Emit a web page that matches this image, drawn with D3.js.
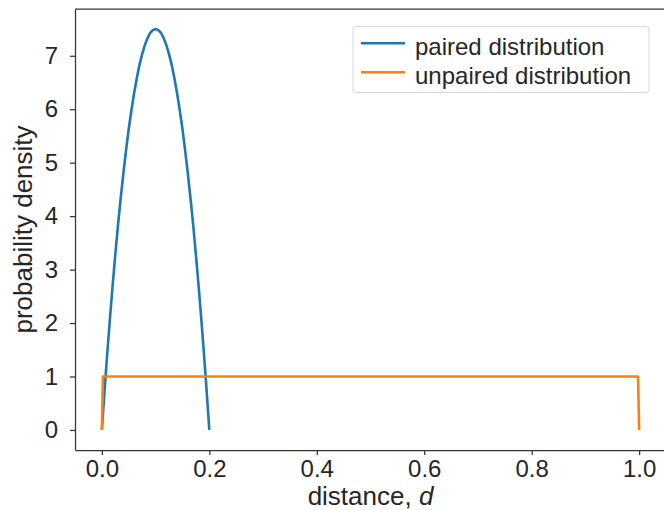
<!DOCTYPE html>
<html>
<head>
<meta charset="utf-8">
<script src="https://cdn.jsdelivr.net/npm/d3@7"></script>
<style>
  body { margin: 0; background: #fff; }
  text { font-family: "Liberation Sans", Arial, sans-serif; fill: #262626; }
</style>
</head>
<body>
<div id="chart"></div>
<script>
// values
let pairedD = [0, 0.005, 0.01, 0.015, 0.02, 0.025, 0.03, 0.035, 0.04, 0.045, 0.05,
               0.055, 0.06, 0.065, 0.07, 0.075, 0.08, 0.085, 0.09, 0.095, 0.10,
               0.105, 0.11, 0.115, 0.12, 0.125, 0.13, 0.135, 0.14, 0.145, 0.15,
               0.155, 0.16, 0.165, 0.17, 0.175, 0.18, 0.185, 0.19, 0.195, 0.20];
let pairedP = [0, 0.73, 1.43, 2.08, 2.7, 3.28, 3.83, 4.33, 4.8, 5.23, 5.63,
               5.98, 6.3, 6.58, 6.83, 7.03, 7.2, 7.33, 7.43, 7.48, 7.5,
               7.48, 7.43, 7.33, 7.2, 7.03, 6.83, 6.58, 6.3, 5.98, 5.63,
               5.23, 4.8, 4.33, 3.83, 3.28, 2.7, 2.08, 1.43, 0.73, 0];
let unpairedD = [0, 0.002, 0.998, 1];
let unpairedP = [0, 1, 1, 0];
let xTicks = [0, 0.2, 0.4, 0.6, 0.8, 1.0];
let yTicks = [0, 1, 2, 3, 4, 5, 6, 7];
let seriesNames = ["paired distribution", "unpaired distribution"];
let colors = ["#1f77b4", "#ff7f0e"];

let width = 664, height = 510;
let margin = {top: 9, right: -2, bottom: 60, left: 75};
let w = width - margin.left - margin.right, h = height - margin.top - margin.bottom;

let svg = d3.select("#chart").append("svg")
    .attr("width", width)
    .attr("height", height)
    .append("g")
    .attr("transform", `translate(${margin.left},${margin.top})`);

let x = d3.scaleLinear().domain([-0.05, 1.05]).range([0, w]);
let y = d3.scaleLinear().domain([-0.375, 7.875]).range([h, 0]);

// axes
let xAxis = svg.append("g")
    .attr("transform", `translate(0,${h})`)
    .call(d3.axisBottom(x).tickValues(xTicks).tickFormat(d3.format(".1f"))
        .tickSize(5).tickSizeOuter(0).tickPadding(5));
let yAxis = svg.append("g")
    .call(d3.axisLeft(y).tickValues(yTicks).tickFormat(d3.format("d"))
        .tickSize(5).tickSizeOuter(0).tickPadding(12));

[xAxis, yAxis].forEach(function(a) {
    a.select(".domain").attr("stroke", "#333").attr("stroke-width", 1.25);
    a.selectAll(".tick line").attr("stroke", "#333").attr("stroke-width", 1.25);
    a.selectAll(".tick text").style("font-size", "24px").attr("fill", "#262626");
});

// top spine
svg.append("line")
    .attr("x1", 0).attr("x2", w + 10)
    .attr("y1", 0).attr("y2", 0)
    .attr("stroke", "#333").attr("stroke-width", 1.25);

let line = d3.line()
    .x(function(d) { return x(d[0]); })
    .y(function(d) { return y(d[1]); });

let series = [
    d3.zip(pairedD, pairedP),
    d3.zip(unpairedD, unpairedP)
];

svg.selectAll("path.series").data(series)
    .enter()
    .append("path")
    .attr("class", "series")
    .attr("d", line)
    .attr("fill", "none")
    .attr("stroke", function(d, i) { return colors[i]; })
    .attr("stroke-width", 2.6)
    .attr("stroke-linejoin", "round");

// axis labels
svg.append("text")
    .attr("transform", `translate(${x(0.5)}, ${h + 55})`)
    .style("text-anchor", "middle")
    .style("font-size", "26px")
    .html('distance, <tspan font-style="italic">d</tspan>');

svg.append("text")
    .attr("transform", `translate(${32 - margin.left}, ${229.5 - margin.top}) rotate(-90)`)
    .style("text-anchor", "middle")
    .style("font-size", "26px")
    .text("probability density");

// legend
let legend = svg.append("g").attr("transform", `translate(${353 - margin.left},${26.5 - margin.top})`);
legend.append("rect")
    .attr("width", 296).attr("height", 66)
    .attr("rx", 3)
    .attr("fill", "#fff").attr("fill-opacity", 0.8)
    .attr("stroke", "#d9d9d9").attr("stroke-width", 1);

seriesNames.forEach(function(name, i) {
    let ly = 16.8 + i * 29;
    legend.append("line")
        .attr("x1", 8).attr("x2", 52)
        .attr("y1", ly).attr("y2", ly)
        .attr("stroke", colors[i]).attr("stroke-width", 2.6);
    legend.append("text")
        .attr("x", 62).attr("y", ly + 11.5)
        .style("font-size", "24px")
        .text(name);
});
</script>
</body>
</html>
